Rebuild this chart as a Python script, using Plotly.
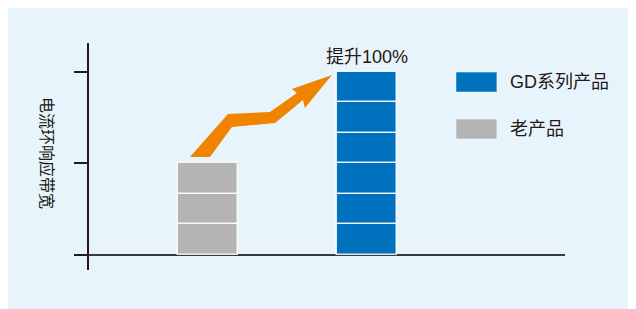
import plotly.graph_objects as go

# ---- data ----
categories = ["老产品", "GD系列产品"]
values = [3, 6]                      # relative current-loop bandwidth (units)
bar_colors = ["#B4B4B4", "#0071BC"]
y_ticks = [0, 3, 6]
y_title = "电流环响应带宽"
gain_label = "提升100%"

# decorative orange arrow (data coordinates)
arrow_x = [-0.113, 0.126, 0.390, 0.560, 0.529, 0.780, 0.610, 0.598, 0.422, 0.151, 0.013]
arrow_y = [3.213, 4.623, 4.689, 5.311, 5.443, 5.902, 4.820, 5.082, 4.328, 4.197, 3.213]

FONT = "Liberation Sans, Noto Sans CJK SC, sans-serif"
TXT = "#231815"

fig = go.Figure()

for cat, val, col in zip(categories, values, bar_colors):
    n = int(val)
    fig.add_trace(go.Bar(
        x=[cat] * n, y=[1] * n, base=list(range(n)),
        width=0.377,
        marker=dict(color=col, line=dict(color="rgba(255,255,255,0.85)", width=1.5)),
        showlegend=False, hoverinfo="skip",
    ))

path = "M " + " L ".join(f"{x},{y}" for x, y in zip(arrow_x, arrow_y)) + " Z"

shapes = [
    # light blue background panel
    dict(type="rect", xref="paper", yref="paper", x0=-0.17, x1=1.16, y0=-0.18, y1=1.16,
         fillcolor="#E8F4FB", line=dict(width=0), layer="below"),
    # arrow
    dict(type="path", xref="x", yref="y", path=path, fillcolor="#F08300",
         line=dict(width=0), layer="above"),
    # legend swatches
    dict(type="rect", xref="paper", yref="paper", x0=0.771, x1=0.857, y0=0.784, y1=0.872,
         fillcolor=bar_colors[1], line=dict(color="rgba(255,255,255,0.5)", width=1)),
    dict(type="rect", xref="paper", yref="paper", x0=0.771, x1=0.857, y0=0.577, y1=0.665,
         fillcolor=bar_colors[0], line=dict(color="rgba(255,255,255,0.5)", width=1)),
]

annotations = [
    dict(x=categories[1], y=values[1], xref="x", yref="y", text=gain_label,
         showarrow=False, yanchor="bottom", yshift=3,
         font=dict(family=FONT, size=18, color=TXT)),
    dict(x=0.880, y=0.828, xref="paper", yref="paper", text=categories[1],
         showarrow=False, xanchor="left", yanchor="middle",
         font=dict(family=FONT, size=18, color=TXT)),
    dict(x=0.880, y=0.621, xref="paper", yref="paper", text=categories[0],
         showarrow=False, xanchor="left", yanchor="middle",
         font=dict(family=FONT, size=18, color=TXT)),
    dict(x=-0.088, y=0.515, xref="paper", yref="paper", text=y_title,
         showarrow=False, textangle=90, xanchor="center", yanchor="middle",
         font=dict(family=FONT, size=16, color=TXT)),
]

fig.update_layout(
    width=628, height=301,
    margin=dict(l=81, r=71, t=35, b=39),
    paper_bgcolor="white", plot_bgcolor="rgba(0,0,0,0)",
    barmode="overlay", bargap=0,
    shapes=shapes, annotations=annotations,
    showlegend=False,
    xaxis=dict(type="category", range=[-0.748, 2.246], showgrid=False, showline=False,
               zeroline=False, showticklabels=False, ticks=""),
    yaxis=dict(range=[-0.492, 6.95], showgrid=False, showline=True, linecolor=TXT,
               linewidth=2, zeroline=True, zerolinecolor="#3a3a3a", zerolinewidth=2,
               tickmode="array", tickvals=y_ticks, ticks="outside", ticklen=13,
               tickwidth=2, tickcolor=TXT, showticklabels=False),
)

fig.write_html("out.html")
